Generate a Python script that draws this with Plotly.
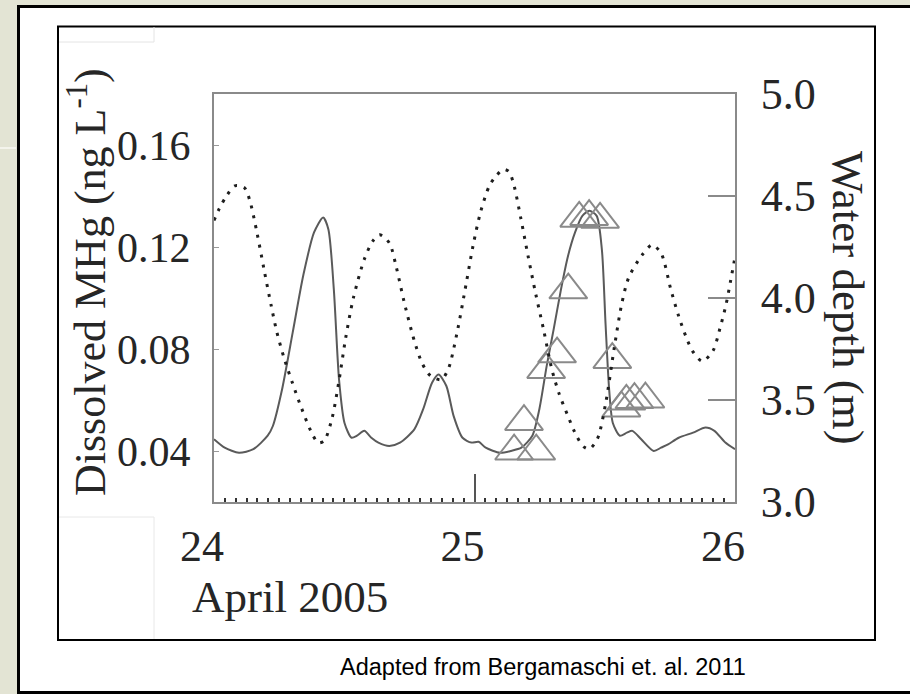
import plotly.graph_objects as go

# ---------------- data ----------------
depth_day = [24.000, 24.021, 24.048, 24.080, 24.117, 24.137, 24.165, 24.192, 24.220, 24.240,
             24.268, 24.302, 24.336, 24.371, 24.400, 24.423, 24.453, 24.478, 24.505, 24.535,
             24.577, 24.610, 24.636, 24.673, 24.700, 24.730, 24.769, 24.799, 24.830, 24.872,
             24.899, 24.933, 24.968, 24.995, 25.023, 25.057, 25.084, 25.110, 25.132, 25.150,
             25.178, 25.205, 25.235, 25.266, 25.297, 25.325, 25.356, 25.393, 25.420, 25.441,
             25.472, 25.503, 25.537, 25.565, 25.592, 25.643, 25.682, 25.716, 25.754, 25.784,
             25.815, 25.837, 25.874, 25.915, 25.942, 25.966, 25.984, 26.000]
depth_m = [4.38, 4.44, 4.50, 4.55, 4.54, 4.48, 4.32, 4.14, 3.96, 3.84,
           3.71, 3.58, 3.46, 3.35, 3.29, 3.30, 3.41, 3.58, 3.80, 4.00,
           4.19, 4.28, 4.31, 4.27, 4.15, 3.98, 3.79, 3.68, 3.62, 3.60,
           3.65, 3.83, 4.07, 4.26, 4.42, 4.55, 4.60, 4.63, 4.62, 4.56,
           4.39, 4.21, 4.02, 3.84, 3.65, 3.53, 3.43, 3.32, 3.27, 3.26,
           3.31, 3.48, 3.76, 3.97, 4.10, 4.21, 4.26, 4.22, 4.04, 3.91,
           3.80, 3.74, 3.69, 3.74, 3.85, 3.97, 4.09, 4.20]

mhg_day = [24.000, 24.041, 24.096, 24.151, 24.206, 24.226, 24.261, 24.302, 24.343, 24.384,
           24.419, 24.439, 24.460, 24.480, 24.501, 24.528, 24.549, 24.577, 24.604, 24.631,
           24.673, 24.714, 24.769, 24.803, 24.837, 24.862, 24.892, 24.920, 24.954, 24.988,
           25.016, 25.043, 25.098, 25.139, 25.180, 25.222, 25.249, 25.277, 25.304, 25.332,
           25.359, 25.386, 25.414, 25.441, 25.469, 25.489, 25.503, 25.517, 25.531, 25.558,
           25.585, 25.606, 25.640, 25.688, 25.716, 25.743, 25.784, 25.839, 25.887, 25.921,
           25.963, 26.000]
mhg_val = [0.0446, 0.0413, 0.0393, 0.0407, 0.0460, 0.0498, 0.0640, 0.0864, 0.1090, 0.1257,
           0.1316, 0.1270, 0.1034, 0.0680, 0.0510, 0.0452, 0.0460, 0.0479, 0.0452, 0.0433,
           0.0420, 0.0433, 0.0485, 0.0564, 0.0668, 0.0700, 0.0655, 0.0537, 0.0452, 0.0433,
           0.0436, 0.0413, 0.0393, 0.0400, 0.0413, 0.0460, 0.0564, 0.0733, 0.0878, 0.1034,
           0.1165, 0.1257, 0.1322, 0.1342, 0.1322, 0.1190, 0.0900, 0.0640, 0.0510, 0.0460,
           0.0472, 0.0479, 0.0446, 0.0400, 0.0413, 0.0426, 0.0452, 0.0472, 0.0492, 0.0479,
           0.0433, 0.0407]

tri_day = [25.152, 25.190, 25.237, 25.275, 25.317, 25.360, 25.402, 25.440, 25.482,
           25.529, 25.564, 25.583, 25.614, 25.656]
tri_val = [0.0399, 0.0515, 0.0399, 0.0719, 0.0780, 0.1031, 0.1312, 0.1319, 0.1308,
           0.0758, 0.0568, 0.0595, 0.0601, 0.0603]

x_ticks = [24, 25, 26]
x_ticktext = ["24", "25", "26"]
y_ticks = [0.04, 0.08, 0.12, 0.16]
y_ticktext = ["0.04", "0.08", "0.12", "0.16"]
y2_ticks = [3.0, 3.5, 4.0, 4.5, 5.0]
y2_ticktext = ["3.0", "3.5", "4.0", "4.5", "5.0"]

# ---------------- layout helpers (pixel -> paper) ----------------
W, H = 910, 694
PX0, PX1, PY0, PY1 = 214, 735, 94, 502


def px(x):
    return (x - PX0) / (PX1 - PX0)


def py(y):
    return (PY1 - y) / (PY1 - PY0)


SERIF = "Liberation Serif, Times New Roman, serif"
TXT = "#262626"

fig = go.Figure()

fig.add_trace(go.Scatter(
    x=depth_day, y=depth_m, yaxis="y2", mode="lines",
    line=dict(color="#1e1e1e", width=3, dash="3px,7px", shape="spline", smoothing=0.8),
    showlegend=False, hoverinfo="skip"))

fig.add_trace(go.Scatter(
    x=mhg_day, y=mhg_val, mode="lines",
    line=dict(color="#5a5a5a", width=2, shape="spline", smoothing=0.7),
    showlegend=False, hoverinfo="skip"))

fig.add_trace(go.Scatter(
    x=tri_day, y=tri_val, mode="markers",
    marker=dict(symbol="triangle-up-open", size=33, color="#8a8a8a",
                line=dict(color="#8a8a8a", width=2)),
    showlegend=False, hoverinfo="skip"))

shapes = [
    # outer slide frame
    dict(type="rect", xref="paper", yref="paper",
         x0=px(18.5), x1=px(940), y0=py(6.5), y1=py(692.5),
         line=dict(color="black", width=3), fillcolor="white", layer="below"),
    # light line in the beige strip
    dict(type="line", xref="paper", yref="paper", x0=px(0), x1=px(16), y0=py(148), y1=py(148),
         line=dict(color="#f4f4ec", width=2), layer="below"),
    # inner figure frame
    dict(type="rect", xref="paper", yref="paper",
         x0=px(58), x1=px(875), y0=py(26.5), y1=py(640),
         line=dict(color="black", width=2), layer="below"),
    # faint paste-edges of the scanned figure
    dict(type="line", xref="paper", yref="paper", x0=px(59), x1=px(154), y0=py(42), y1=py(42),
         line=dict(color="#e4e4e4", width=1), layer="below"),
    dict(type="line", xref="paper", yref="paper", x0=px(154), x1=px(154), y0=py(27), y1=py(42),
         line=dict(color="#e4e4e4", width=1), layer="below"),
    dict(type="line", xref="paper", yref="paper", x0=px(59), x1=px(154), y0=py(517), y1=py(517),
         line=dict(color="#e8e8e8", width=1), layer="below"),
    dict(type="line", xref="paper", yref="paper", x0=px(154), x1=px(154), y0=py(517), y1=py(639),
         line=dict(color="#e8e8e8", width=1), layer="below"),
]

annotations = [
    dict(text="Dissolved MHg (ng L<sup>-1</sup>)", xref="paper", yref="paper",
         x=px(87), y=py(282), textangle=-90, showarrow=False,
         font=dict(family=SERIF, size=44, color=TXT), xanchor="center", yanchor="middle"),
    dict(text="Water depth (m)", xref="paper", yref="paper",
         x=px(848), y=py(298), textangle=90, showarrow=False,
         font=dict(family=SERIF, size=45, color=TXT), xanchor="center", yanchor="middle"),
    dict(text="April 2005", xref="paper", yref="paper",
         x=px(290), y=py(597), showarrow=False,
         font=dict(family=SERIF, size=45, color=TXT), xanchor="center", yanchor="middle"),
    dict(text="Adapted from Bergamaschi et. al. 2011", xref="paper", yref="paper",
         x=px(543), y=py(667), showarrow=False,
         font=dict(family="Liberation Sans, Arial, sans-serif", size=23.5, color="black"),
         xanchor="center", yanchor="middle"),
]

fig.update_layout(
    width=W, height=H,
    margin=dict(l=PX0, r=W - PX1, t=PY0, b=H - PY1, pad=0),
    paper_bgcolor="#e3e4d4", plot_bgcolor="white",
    shapes=shapes, annotations=annotations,
    xaxis=dict(range=[24, 26], tickvals=x_ticks, ticktext=x_ticktext,
               ticks="inside", ticklen=28, tickwidth=2, tickcolor="#555",
               showline=True, linecolor="#8a8a8a", linewidth=2, mirror=True,
               showgrid=False, zeroline=False,
               tickfont=dict(family=SERIF, size=44, color=TXT),
               ticklabelshift=-12, ticklabelstandoff=4,
               minor=dict(ticks="inside", ticklen=4, tickwidth=2, tickcolor="#333", dtick=1 / 24),
               fixedrange=True),
    yaxis=dict(range=[0.02, 0.18], tickvals=y_ticks, ticktext=y_ticktext,
               ticks="inside", ticklen=5, tickwidth=1, tickcolor="#999",
               showline=True, linecolor="#8a8a8a", linewidth=2,
               showgrid=False, zeroline=False,
               tickfont=dict(family=SERIF, size=42, color=TXT),
               ticklabelstandoff=13, fixedrange=True),
    yaxis2=dict(range=[3.0, 5.0], tickvals=y2_ticks, ticktext=y2_ticktext,
                overlaying="y", side="right",
                ticks="inside", ticklen=27, tickwidth=2, tickcolor="#8a8a8a",
                showline=True, linecolor="#8a8a8a", linewidth=2,
                showgrid=False, zeroline=False,
                tickfont=dict(family=SERIF, size=44, color=TXT),
                ticklabelstandoff=15, fixedrange=True),
)

fig.write_html("out.html", config={"displayModeBar": False})
